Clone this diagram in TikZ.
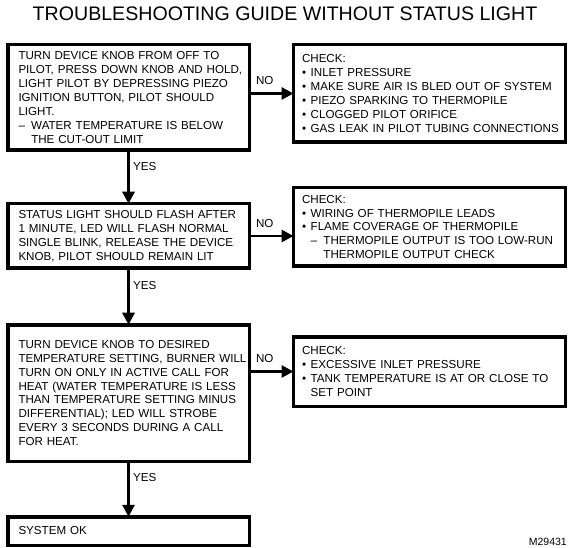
\documentclass[tikz,border=0pt]{standalone}
\usepackage{fontspec}
\setmainfont{Liberation Sans}
\usetikzlibrary{positioning, arrows.meta}
\newcommand{\boxfont}{\fontsize{11.6}{13.9}\selectfont}
\newcommand{\bul}{\makebox[0.75em][l]{\textbullet}}
\newcommand{\dsh}{\makebox[1.1em][l]{--}}
\tikzstyle{arrow} = [line width=2.8pt, -{Triangle[length=12pt, width=12pt]}]
\tikzstyle{stepbox} = [rectangle, draw, line width=3.5pt, outer sep=0pt, align=left, inner ysep=4pt, font=\boxfont]
\tikzstyle{leftbox} = [stepbox, text width=230pt, inner xsep=5.75pt,
    execute at begin node={\leftskip=5pt\rightskip=-5pt plus 1fil}]
\tikzstyle{rightbox} = [stepbox, text width=261pt, inner xsep=5.5pt,
    execute at begin node={\leftskip=3pt\rightskip=-3pt plus 1fil}]
\tikzstyle{answer} = [font=\boxfont]

\begin{document}
\begin{tikzpicture}[x=1pt, y=-1pt]
            \useasboundingbox (0,0) rectangle (568,548);
            \node (title) [font=\fontsize{19.6}{22}\selectfont] at (285,13.5) {TROUBLESHOOTING GUIDE WITHOUT STATUS LIGHT};

            \node (knob) [leftbox, minimum height=105.5pt, anchor=north west] at (7.75,44.75) {TURN DEVICE KNOB FROM OFF TO\\
                PILOT, PRESS DOWN KNOB AND HOLD,\\
                LIGHT PILOT BY DEPRESSING PIEZO\\
                IGNITION BUTTON, PILOT SHOULD\\
                LIGHT.\\
                \dsh WATER TEMPERATURE IS BELOW\\
                \hspace*{1.1em}THE CUT-OUT LIMIT};
            \node (status) [leftbox, minimum height=64.5pt, below=53.5pt of knob] {STATUS LIGHT SHOULD FLASH AFTER\\
                1 MINUTE, LED WILL FLASH NORMAL\\
                SINGLE BLINK, RELEASE THE DEVICE\\
                KNOB, PILOT SHOULD REMAIN LIT};
            \node (setting) [leftbox, minimum height=136.5pt, below=56.5pt of status] {TURN DEVICE KNOB TO DESIRED\\
                TEMPERATURE SETTING, BURNER WILL\\
                TURN ON ONLY IN ACTIVE CALL FOR\\
                HEAT (WATER TEMPERATURE IS LESS\\
                THAN TEMPERATURE SETTING MINUS\\
                DIFFERENTIAL); LED WILL STROBE\\
                EVERY 3 SECONDS DURING A CALL\\
                FOR HEAT.};
            \node (sysok) [leftbox, minimum height=28.5pt, below=55.5pt of setting] {SYSTEM OK};

            \node (chkpilot) [rightbox, minimum height=97.5pt, right=44.25pt of knob.north east, anchor=north west] {CHECK:\\
                \bul INLET PRESSURE\\
                \bul MAKE SURE AIR IS BLED OUT OF SYSTEM\\
                \bul PIEZO SPARKING TO THERMOPILE\\
                \bul CLOGGED PILOT ORIFICE\\
                \bul GAS LEAK IN PILOT TUBING CONNECTIONS};
            \node (chkthermo) [rightbox, minimum height=78.5pt, right=44.25pt of status.south east, anchor=south west, yshift=2pt] {CHECK:\\
                \bul WIRING OF THERMOPILE LEADS\\
                \bul FLAME COVERAGE OF THERMOPILE\\
                \hspace*{0.75em}\dsh THERMOPILE OUTPUT IS TOO LOW-RUN\\
                \hspace*{1.85em}THERMOPILE OUTPUT CHECK};
            \node (chkburner) [rightbox, minimum height=69.5pt, right=44.25pt of setting, yshift=21.5pt] {CHECK:\\
                \bul EXCESSIVE INLET PRESSURE\\
                \bul TANK TEMPERATURE IS AT OR CLOSE TO\\
                \hspace*{0.75em}SET POINT};

            \node (figno) [anchor=base east, inner sep=0pt, font=\fontsize{10.5}{12}\selectfont] at (567,545) {M29431};

            \draw [arrow] (knob) -- (status) node[answer, pos=0.3, right] {YES};
            \draw [arrow] (status) -- (setting) node[answer, pos=0.3, right] {YES};
            \draw [arrow] (setting) -- (sysok) node[answer, pos=0.3, right] {YES};

            \draw [arrow] (chkpilot.west -| knob.east) -- (chkpilot.west) node[answer, pos=0.35, above=4pt] {NO};
            \draw [arrow] (status.east) -- (status.east -| chkthermo.west) node[answer, pos=0.35, above=4pt] {NO};
            \draw [arrow] (chkburner.west -| setting.east) -- (chkburner.west) node[answer, pos=0.35, above=4pt] {NO};
        \end{tikzpicture}
\end{document}
